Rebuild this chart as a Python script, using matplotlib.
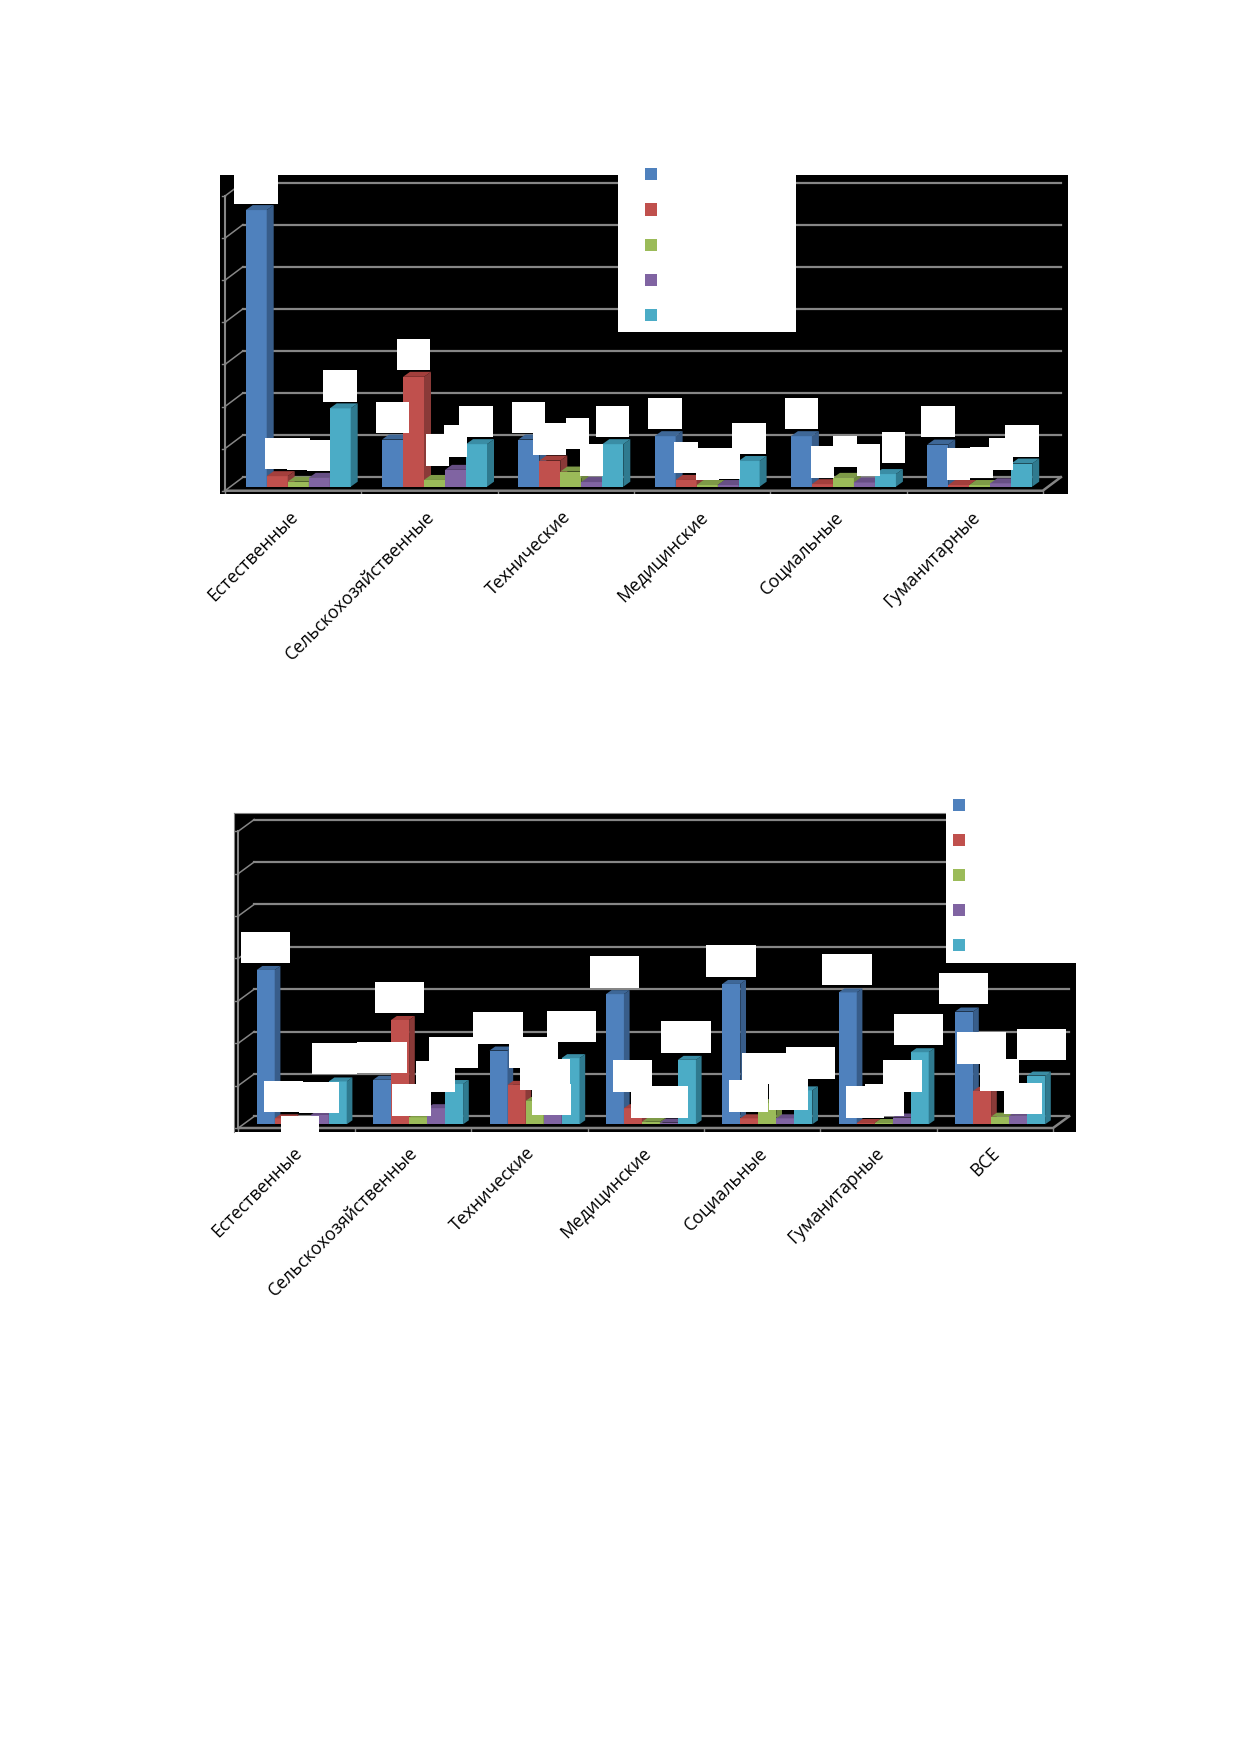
#two 3d-look column charts, labels blanked out with white boxes
import matplotlib
matplotlib.use('Agg')
import matplotlib.pyplot as plt
from matplotlib.patches import Polygon, Rectangle

plt.rcParams['font.family'] = ['Open Sans', 'DejaVu Sans']

W, H = 1239, 1752

categories_top = ['Естественные', 'Сельскохозяйственные', 'Технические', 'Медицинские', 'Социальные', 'Гуманитарные']
categories_bottom = categories_top + ['ВСЕ']

# series values, top chart
top_blue = [65.7, 11.2, 11.2, 12.0, 12.0, 10.0]
top_red = [2.5, 26.1, 6.2, 1.6, 0.6, 0.4]
top_green = [1.2, 1.6, 3.6, 0.4, 2.1, 0.4]
top_purple = [2.1, 4.0, 1.1, 0.4, 1.0, 0.8]
top_teal = [18.6, 10.1, 10.1, 6.1, 3.0, 5.5]

# bottom chart
bot_blue = [36.4, 10.5, 17.4, 30.7, 33.1, 31.1, 26.6]
bot_red = [1.4, 24.6, 9.3, 3.8, 1.4, 0.3, 7.9]
bot_green = [0.8, 1.65, 5.5, 0.6, 5.0, 0.3, 1.8]
bot_purple = [2.2, 3.8, 2.2, 0.4, 1.4, 1.6, 2.0]
bot_teal = [10.1, 9.5, 15.6, 15.2, 8.0, 17.0, 11.5]

grid_values = [0, 10, 20, 30, 40, 50, 60, 70]

colors_front = ['#4F81BD', '#C0504D', '#9BBB59', '#8064A2', '#4BACC6']
colors_side = ['#385D8A', '#8A3A38', '#6F8740', '#5C4875', '#2F7A8F']
colors_roof = ['#3E6797', '#A33F3C', '#7E9A47', '#674F85', '#3A8DA5']
GREY = '#868686'

# white boxes over the data labels, full image pixels x0, y0, x1, y1
def zoom_boxes(boxes, ox, oy):
    return [(ox + a / 3, oy + b / 3, ox + c / 3, oy + d / 3) for a, b, c, d in boxes]

boxes_top = zoom_boxes([(102, 50, 234, 161), (196, 865, 265, 958), (262, 865, 330, 960), (322, 870, 390, 964),
                        (369, 660, 470, 755), (527, 755, 627, 850), (590, 566, 690, 660), (678, 852, 748, 947),
                        (731, 826, 800, 921), (778, 768, 879, 862), (936, 755, 1036, 850), (998, 820, 1098, 914),
                        (1098, 804, 1167, 898), (1140, 883, 1210, 977), (1188, 768, 1288, 862),
                        (1345, 743, 1446, 837), (1423, 876, 1493, 970)], 200, 150)
boxes_top += zoom_boxes([(167, 895, 237, 990), (230, 895, 300, 988), (277, 819, 378, 913), (434, 743, 535, 837),
                         (513, 888, 582, 983), (580, 858, 650, 952), (650, 883, 720, 977), (725, 845, 795, 940),
                         (843, 768, 944, 862), (921, 895, 991, 990), (991, 890, 1060, 984),
                         (1048, 865, 1118, 960), (1095, 825, 1196, 920)], 640, 150)
boxes_bot = zoom_boxes([(93, 395, 240, 489), (495, 545, 643, 639), (1139, 469, 1287, 563), (307, 728, 441, 822),
                        (441, 726, 590, 820), (162, 842, 280, 936), (268, 845, 386, 939), (212, 947, 328, 1015),
                        (546, 853, 662, 947), (618, 782, 735, 876), (656, 710, 804, 804), (790, 637, 938, 731),
                        (896, 710, 1044, 804), (930, 777, 1080, 871), (966, 852, 1084, 946), (1011, 633, 1159, 727),
                        (1209, 781, 1325, 875), (1263, 859, 1380, 953), (1318, 859, 1433, 953),
                        (1354, 664, 1502, 758)], 210, 800)
boxes_bot += zoom_boxes([(78, 466, 227, 560), (185, 788, 318, 882), (148, 871, 265, 965), (266, 866, 383, 960),
                         (317, 771, 465, 866), (427, 492, 575, 586), (497, 889, 613, 984), (555, 883, 672, 977),
                         (610, 810, 726, 905), (642, 671, 790, 765), (777, 549, 925, 643), (830, 727, 978, 821),
                         (900, 808, 1016, 903), (971, 879, 1087, 973), (1010, 716, 1158, 810)], 680, 790)


def white_box(fig, x0, y0, x1, y1, z=20):
    fig.add_artist(Rectangle((x0 / W, 1 - y1 / H), (x1 - x0) / W, (y1 - y0) / H, transform=fig.transFigure,
                             facecolor='white', edgecolor='none', zorder=z))


def legend_keys(fig, x, ys):
    for c, y in zip(colors_front, ys):
        fig.add_artist(Rectangle((x / W, 1 - (y + 6) / H), 12 / W, 12 / H, transform=fig.transFigure,
                                 facecolor=c, edgecolor='none', zorder=21))


def draw_chart(fig, rect, series, labels, tick0, step, floor_y, base_y, unit, bar_x0, bar_w, dx, dy, wall_dx, wall_dy):
    left, top, right, bottom = rect
    ax = fig.add_axes([left / W, 1 - bottom / H, (right - left) / W, (bottom - top) / H], facecolor='black')
    # one x unit = a category, one y unit = a grid unit/10
    ax.set_xlim((left - tick0) / step, (right - tick0) / step)
    ax.set_ylim((base_y - bottom) / unit, (base_y - top) / unit)
    n = len(labels)
    ddx, ddy = dx / step, dy / unit
    wx, wy = wall_dx / step, wall_dy / unit
    y0 = (base_y - floor_y) / unit

    for g in grid_values:
        ax.plot([wx, n + wx], [y0 + wy + g, y0 + wy + g], color=GREY, lw=1.6, zorder=1)
        ax.plot([0, wx], [y0 + g, y0 + wy + g], color=GREY, lw=1.1, zorder=1)
        ax.plot([-3 / step, 0], [y0 + g, y0 + g], color=GREY, lw=1.0, zorder=2)
    ax.plot([0, 0], [y0, y0 + grid_values[-1]], color=GREY, lw=1.5, zorder=2)
    ax.plot([0, n, n + wx], [y0, y0, y0 + wy], color=GREY, lw=1.8, zorder=2)
    for i in range(n + 1):
        ax.plot([i, i], [y0, y0 - 4 / unit], color=GREY, lw=1.0, zorder=2)

    off = (bar_x0 - tick0) / step
    w = bar_w / step
    for j, vals in enumerate(series):
        xs = [i + off + j * w for i in range(n)]
        ax.bar(xs, vals, width=w, align='edge', color=colors_front[j], linewidth=0, zorder=3 + j)
        for x, v in zip(xs, vals):
            ax.add_patch(Polygon([(x + w, 0), (x + w + ddx, ddy), (x + w + ddx, v + ddy), (x + w, v)],
                                 facecolor=colors_side[j], edgecolor='none', zorder=3 + j))
            ax.add_patch(Polygon([(x, v), (x + ddx, v + ddy), (x + w + ddx, v + ddy), (x + w, v)],
                                 facecolor=colors_roof[j], edgecolor='none', zorder=3 + j))

    ax.set_xticks([])
    ax.set_yticks([])
    for s in ax.spines.values():
        s.set_visible(False)
    return ax


def category_labels(fig, labels, tick0, step, y_px, size):
    for i, t in enumerate(labels):
        x_px = tick0 + step * (i + 0.5) - 4
        fig.text(x_px / W, 1 - y_px / H, t, rotation=45, rotation_mode='anchor', ha='right', va='top',
                 fontsize=size, color='black', zorder=30)


fig = plt.figure(figsize=(W / 100, H / 100), dpi=100, facecolor='white')

series_top = [top_blue, top_red, top_green, top_purple, top_teal]
ax1 = draw_chart(fig, (220, 175, 1068, 494), series_top, categories_top, 225, 136.3, 490.7, 486.7, 4.21,
                 245.7, 21, 7, 5, 18, 13.5)
white_box(fig, 618, 160, 795.7, 332)
legend_keys(fig, 645, [174, 209.5, 245, 280, 315])
for b in boxes_top:
    white_box(fig, *b)
category_labels(fig, categories_top, 225, 136.3, 508, 12.8)

series_bot = [bot_blue, bot_red, bot_green, bot_purple, bot_teal]
ax2 = draw_chart(fig, (234, 813, 1075.7, 1131.7), series_bot, categories_bottom, 238.3, 116.4, 1128, 1124.3, 4.24,
                 256.7, 18, 5.7, 4, 16, 11.7)
ax2.spines['top'].set_visible(True)
ax2.spines['top'].set_color(GREY)
ax2.spines['left'].set_visible(True)
ax2.spines['left'].set_color(GREY)
white_box(fig, 945.7, 790, 1078, 963)
legend_keys(fig, 953, [804.7, 840, 875, 910, 945])
for b in boxes_bot:
    white_box(fig, *b)
category_labels(fig, categories_bottom, 238.3, 116.4, 1144, 12.8)

fig.savefig('out.png', dpi=100, facecolor='white')
